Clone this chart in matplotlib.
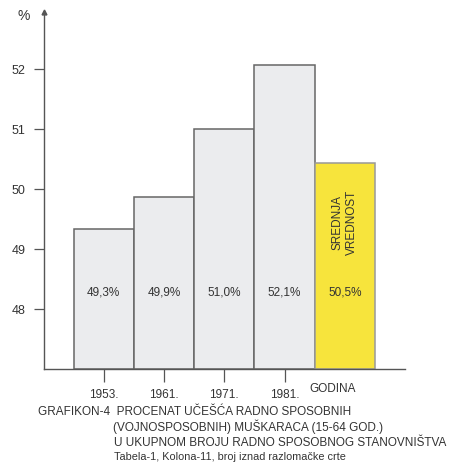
import matplotlib.pyplot as plt

plt.rcParams['font.family'] = ['Liberation Sans', 'DejaVu Sans']

# data
years = ['1953.', '1961.', '1971.', '1981.']
values = [49.33, 49.87, 51.0, 52.07]
mean_value = 50.44
value_labels = ['49,3%', '49,9%', '51,0%', '52,1%']
mean_label = '50,5%'
yticks = [48, 49, 50, 51, 52]

axis_col = '#555555'
edge_col = '#666666'

fig = plt.figure(figsize=(4.51, 4.63), dpi=100)
ax = fig.add_axes([43.5 / 451, 1 - 369 / 463, (405 - 43.5) / 451, (369 - 12) / 463])

base = 47
xs = [1, 2, 3, 4]
ax.bar(xs, [v - base for v in values], bottom=base, width=1.0,
       color='#ebecee', edgecolor=edge_col, linewidth=1.1)
ax.bar(5, mean_value - base, bottom=base, width=1.0,
       color='#f7e43c', edgecolor='#999999', linewidth=1.1)

for x, lab in zip(xs, value_labels):
    ax.text(x, 48.27, lab, ha='center', va='center', fontsize=8.5, color='#333333')
ax.text(5, 48.27, mean_label, ha='center', va='center', fontsize=8.5, color='#333333')
ax.text(5, 49.45, 'SREDNJA\nVREDNOST', rotation=90, ha='center', va='center',
        fontsize=8.5, color='#333333', linespacing=1.3)

ax.set_xlim(0, 6)
ax.set_ylim(base, 52.95)
ax.set_yticks(yticks)
ax.set_yticklabels([str(t) for t in yticks], fontsize=9, color='#333333')
ax.set_xticks(xs)
ax.set_xticklabels(years, fontsize=8.5, color='#333333')
ax.tick_params(axis='y', length=7, width=0.9, color=axis_col, pad=6)
ax.tick_params(axis='x', length=9, width=0.9, color=axis_col, pad=5.5)

for s in ['top', 'right']:
    ax.spines[s].set_visible(False)
for s in ['left', 'bottom']:
    ax.spines[s].set_color(axis_col)
    ax.spines[s].set_linewidth(1.0)

# arrow heads
ax.plot(1, 0, '>', color=axis_col, markersize=3.5, transform=ax.get_yaxis_transform(), clip_on=False)
ax.plot(0, 1, '^', color=axis_col, markersize=3.5, transform=ax.get_xaxis_transform(), clip_on=False)

fig.text(18 / 451, 1 - 16 / 463, '%', fontsize=10, color='#333333', ha='left', va='center')
fig.text(333 / 451, 1 - 389 / 463, 'GODINA', fontsize=8.5, color='#333333', ha='center', va='center')

cap = dict(fontsize=8.5, color='#333333', ha='left', va='center')
fig.text(38 / 451, 1 - 412 / 463, 'GRAFIKON-4  PROCENAT UČEŠĆA RADNO SPOSOBNIH', **cap)
fig.text(113 / 451, 1 - 427 / 463, '(VOJNOSPOSOBNIH) MUŠKARACA (15-64 GOD.)', **cap)
fig.text(114 / 451, 1 - 443 / 463, 'U UKUPNOM BROJU RADNO SPOSOBNOG STANOVNIŠTVA', **cap)
fig.text(114 / 451, 1 - 457 / 463, 'Tabela-1, Kolona-11, broj iznad razlomačke crte',
         fontsize=7.8, color='#333333', ha='left', va='center')

fig.savefig('out.png', dpi=100)
